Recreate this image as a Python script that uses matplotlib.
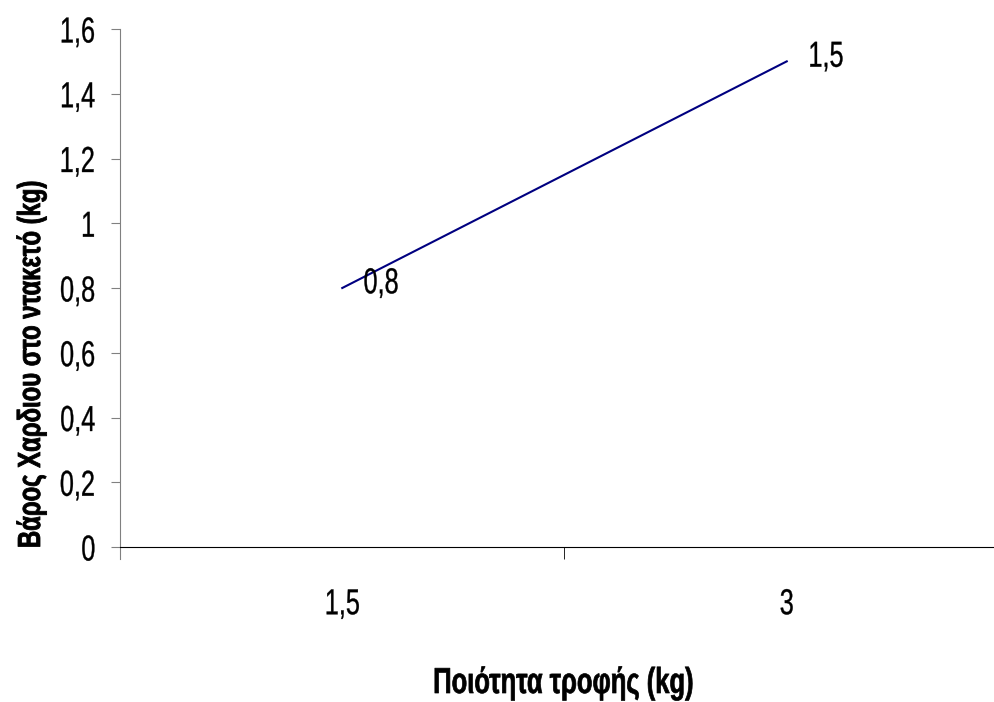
import matplotlib
matplotlib.use("Agg")
import matplotlib.pyplot as plt
from matplotlib.patheffects import AbstractPathEffect
from matplotlib.transforms import Affine2D
from matplotlib.ticker import FixedLocator, FuncFormatter

# δεδομένα
categories = ["1,5", "3"]
values = [0.8, 1.5]
value_labels = ["0,8", "1,5"]
y_ticks = [0, 0.2, 0.4, 0.6, 0.8, 1.0, 1.2, 1.4, 1.6]

plt.rcParams['font.family'] = ['Liberation Sans', 'DejaVu Sans']


class Squeeze(AbstractPathEffect):
    # στενεύει το κείμενο οριζόντια (σαν Arial Narrow)
    def __init__(self, sx, anchor="center", lw=0.0):
        super().__init__()
        self.sx = sx
        self.anchor = anchor
        self.lw = lw

    def draw_path(self, renderer, gc, tpath, affine, rgbFace=None):
        ext = tpath.get_extents()
        a = {"left": ext.x0, "center": (ext.x0 + ext.x1) / 2, "right": ext.x1}[self.anchor]
        t = Affine2D().translate(-a, 0).scale(self.sx, 1).translate(a, 0) + affine
        gc0 = renderer.new_gc()
        gc0.copy_properties(gc)
        gc0.set_linewidth(self.lw)
        renderer.draw_path(gc0, tpath, t, rgbFace)
        gc0.restore()


fig = plt.figure(figsize=(9.95, 7.02), dpi=100)
ax = fig.add_axes([120/995, 1 - 547/702, 889/995, 518/702])

x = list(range(len(categories)))
ax.plot(x, values, color="#000080", lw=1.5)
for xi, v, lab in zip(x, values, value_labels):
    t = ax.annotate(lab, (xi, v), xytext=(15, 3), textcoords="offset points",
                    ha="left", va="center", fontsize=26)
    t.set_path_effects([Squeeze(0.7, "left", 0.25)])

ax.set_xlim(-0.5, 1.5)
ax.set_ylim(0, 1.6)
ax.spines["top"].set_visible(False)
ax.spines["right"].set_visible(False)
ax.spines["left"].set_color("#808080")
ax.spines["left"].set_bounds(-0.037, 1.6)
ax.spines["bottom"].set_color("black")

ax.set_yticks(y_ticks)
ax.yaxis.set_major_formatter(FuncFormatter(lambda v, p: ("%g" % v).replace(".", ",")))
ax.tick_params(axis="y", length=6.5, color="#808080", pad=11, labelsize=26)

ax.set_xticks(x)
ax.set_xticklabels(categories)
ax.xaxis.set_minor_locator(FixedLocator([0.5, 1.5]))
ax.tick_params(axis="x", which="major", length=0, pad=29, labelsize=26)
ax.tick_params(axis="x", which="minor", length=8.6, color="black")

for lab in ax.get_yticklabels():
    lab.set_path_effects([Squeeze(0.7, "right", 0.25)])
for lab in ax.get_xticklabels():
    lab.set_path_effects([Squeeze(0.7, "center", 0.25)])

xl = fig.text(563/995, 1 - 693/702, "Ποιότητα τροφής (kg)", ha="center", va="baseline",
              fontsize=26, fontweight="bold")
yl = fig.text(32/995, 1 - 364/702, "Βάρος Χαρδιου στο ντακετό (kg)", ha="center", va="center",
              rotation=90, fontsize=23, fontweight="bold")

fig.canvas.draw()
r = fig.canvas.get_renderer()
xl.set_path_effects([Squeeze(260 / xl.get_window_extent(r).width, "center", 0.5)])
yl.set_path_effects([Squeeze(368 / yl.get_window_extent(r).height, "center", 0.6)])

fig.savefig("out.png", dpi=100)
